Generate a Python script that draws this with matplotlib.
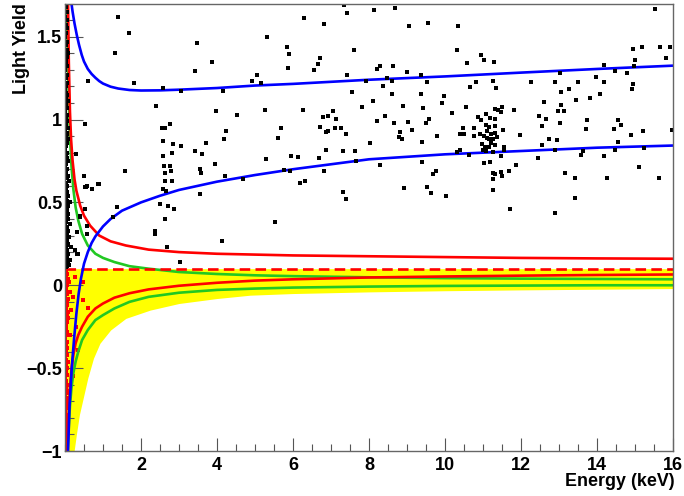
import matplotlib
matplotlib.use("Agg")
import matplotlib.pyplot as plt
from matplotlib.ticker import MultipleLocator, FixedLocator, FixedFormatter

plt.rcParams['font.family'] = ['Liberation Sans', 'DejaVu Sans']

# ---------------- data ----------------
x_ticks = [2, 4, 6, 8, 10, 12, 14, 16]
y_ticks = [-1, -0.5, 0, 0.5, 1, 1.5]
y_tick_labels = ["\u22121", "\u22120.5", "0", "0.5", "1", "1.5"]

band_top_y = 0.1
band_E = [0.0, 0.24, 0.3, 0.38, 0.47, 0.6, 0.75, 0.92, 1.2, 1.6, 2.24, 3.0, 4.0, 4.87, 6.0, 8.0, 10.0, 12.0, 14.0, 16.0]
band_low = [-1.0, -1.0, -0.9, -0.78, -0.69, -0.56, -0.44, -0.35, -0.27, -0.2, -0.15, -0.11, -0.08, -0.06, -0.05, -0.04, -0.033, -0.028, -0.024, -0.02]

blue_up_E = [0.17, 0.2, 0.25, 0.31, 0.37, 0.44, 0.5, 0.6, 0.7, 0.8, 0.9, 1.0, 1.2, 1.4, 1.7, 2.0, 2.5, 3.0, 4.0, 5.0, 6.0, 8.0, 10.0, 12.0, 14.0, 16.0]
blue_up_y = [1.70, 1.65, 1.58, 1.51, 1.45, 1.39, 1.35, 1.305, 1.275, 1.252, 1.232, 1.217, 1.198, 1.187, 1.178, 1.175, 1.176, 1.18, 1.19, 1.205, 1.215, 1.24, 1.26, 1.283, 1.305, 1.325]

blue_lo_E = [0.08, 0.12, 0.18, 0.24, 0.3, 0.36, 0.42, 0.5, 0.6, 0.7, 0.8, 1.0, 1.2, 1.5, 2.0, 2.5, 3.0, 4.0, 5.0, 6.0, 8.0, 10.0, 12.0, 14.0, 16.0]
blue_lo_y = [-1.0, -0.72, -0.49, -0.32, -0.17, -0.05, 0.04, 0.13, 0.2, 0.255, 0.295, 0.355, 0.40, 0.45, 0.50, 0.54, 0.575, 0.625, 0.665, 0.70, 0.76, 0.79, 0.81, 0.83, 0.843]

red_up_E = [0.08, 0.1, 0.13, 0.16, 0.2, 0.25, 0.3, 0.4, 0.5, 0.66, 0.9, 1.2, 1.6, 2.2, 3.0, 4.0, 5.0, 6.0, 8.0, 10.0, 12.0, 14.0, 16.0]
red_up_y = [1.7, 1.35, 1.05, 0.88, 0.75, 0.64, 0.57, 0.48, 0.42, 0.36, 0.30, 0.265, 0.24, 0.215, 0.2, 0.19, 0.185, 0.18, 0.175, 0.17, 0.165, 0.162, 0.16]

green_up_E = [0.04, 0.06, 0.08, 0.1, 0.13, 0.17, 0.22, 0.28, 0.35, 0.45, 0.6, 0.8, 1.0, 1.3, 1.7, 2.2, 3.0, 4.0, 5.0, 6.0, 8.0, 10.0, 12.0, 14.0, 16.0]
green_up_y = [1.7, 1.5, 1.3, 1.1, 0.9, 0.72, 0.58, 0.47, 0.39, 0.31, 0.24, 0.19, 0.165, 0.14, 0.115, 0.1, 0.08, 0.068, 0.06, 0.055, 0.048, 0.043, 0.04, 0.038, 0.036]

red_lo_E = [0.06, 0.08, 0.1, 0.13, 0.17, 0.22, 0.28, 0.35, 0.45, 0.6, 0.8, 1.0, 1.3, 1.7, 2.2, 3.0, 4.0, 5.0, 6.0, 8.0, 10.0, 12.0, 14.0, 16.0]
red_lo_y = [-1.0, -0.88, -0.75, -0.62, -0.51, -0.42, -0.35, -0.3, -0.25, -0.19, -0.14, -0.11, -0.075, -0.048, -0.025, -0.003, 0.015, 0.028, 0.036, 0.047, 0.053, 0.058, 0.062, 0.065]

green_lo_E = [0.07, 0.1, 0.13, 0.17, 0.22, 0.28, 0.35, 0.45, 0.6, 0.8, 1.0, 1.3, 1.7, 2.2, 3.0, 4.0, 5.0, 6.0, 8.0, 10.0, 12.0, 14.0, 16.0]
green_lo_y = [-1.0, -0.85, -0.73, -0.62, -0.53, -0.46, -0.4, -0.33, -0.27, -0.21, -0.18, -0.14, -0.1, -0.07, -0.045, -0.028, -0.02, -0.014, -0.008, -0.004, -0.002, 0.0, 0.0]

# black events: dense column near zero energy
col_E = [0.02, 0.05, 0.01, 0.04, 0.02, 0.06, 0.03, 0.01, 0.05, 0.02, 0.04, 0.07, 0.02, 0.03, 0.05, 0.01, 0.04, 0.02, 0.06, 0.03,
         0.01, 0.05, 0.02, 0.08, 0.03, 0.04, 0.01, 0.06, 0.02, 0.05, 0.03, 0.07, 0.01, 0.04, 0.02, 0.09, 0.05, 0.03, 0.01, 0.06,
         0.02, 0.04, 0.08, 0.03, 0.01, 0.05, 0.02, 0.07, 0.04, 0.10, 0.02, 0.06, 0.03, 0.01, 0.05, 0.08, 0.02, 0.04, 0.12, 0.03,
         0.06, 0.01, 0.05, 0.09, 0.02, 0.04, 0.07, 0.03, 0.14, 0.01, 0.05, 0.02, 0.08, 0.04, 0.06, 0.03, 0.11, 0.01, 0.05, 0.02,
         0.07, 0.04, 0.16, 0.03, 0.06, 0.01, 0.09, 0.02, 0.05, 0.04, 0.13, 0.03, 0.07, 0.01, 0.05, 0.02, 0.10, 0.04, 0.06, 0.03,
         0.05, 0.02, 0.07, 0.04, 0.06, 0.03, 0.01]
col_y = [1.68, 1.65, 1.62, 1.60, 1.57, 1.55, 1.52, 1.50, 1.47, 1.45, 1.42, 1.40, 1.37, 1.35, 1.32, 1.30, 1.27, 1.25, 1.22, 1.20,
         1.18, 1.15, 1.13, 1.11, 1.09, 1.07, 1.05, 1.03, 1.01, 0.99, 0.97, 0.95, 0.93, 0.91, 0.89, 0.88, 0.86, 0.84, 0.82, 0.80,
         0.78, 0.77, 0.75, 0.73, 0.71, 0.70, 0.68, 0.66, 0.65, 0.63, 0.62, 0.60, 0.58, 0.57, 0.55, 0.54, 0.52, 0.51, 0.50, 0.49,
         0.47, 0.46, 0.45, 0.43, 0.42, 0.41, 0.40, 0.38, 0.37, 0.36, 0.35, 0.34, 0.33, 0.32, 0.31, 0.30, 0.29, 0.28, 0.27, 0.26,
         0.25, 0.24, 0.23, 0.22, 0.21, 0.20, 0.19, 0.18, 0.17, 0.16, 0.15, 0.14, 0.13, 0.12, 0.115, 0.11, 0.12, 0.56, 0.92, 1.16,
         1.38, 0.66, 0.48, 0.28, 0.16, 0.44, 0.74]

# black events: spread over the plot
ev_E = [0.5, 0.55, 0.71, 0.87, 0.53, 0.39, 0.32, 0.58, 0.26, 0.34, 0.29, 0.53, 0.61,
        1.39, 1.68, 1.32, 1.82, 3.47, 3.87, 3.42, 2.58, 3.05, 4.17, 2.39, 3.98, 4.53, 2.55, 2.63, 2.76, 4.24,
        4.18, 2.58, 2.84, 3.05, 3.71, 3.42, 3.61, 2.82, 2.58, 3.95, 2.61, 2.76, 1.58, 2.63, 2.78, 3.55, 3.58,
        4.21, 2.63, 2.82, 4.68, 0.58, 0.53, 0.71, 0.89, 2.58, 2.66, 3.55,
        2.5, 2.71, 2.87, 1.37, 0.39, 0.58, 1.26, 2.63, 2.37, 2.37, 2.68, 4.13, 3.03, 0.31,
        7.35, 8.12, 8.68, 7.42, 6.29, 6.81, 9.05, 9.54, 10.33, 5.32, 15.53, 5.84, 5.89, 5.86, 7.60, 6.70, 6.67,
        6.54, 10.32, 10.96, 11.02, 11.29, 10.59, 14.95, 15.19, 15.66, 15.93, 15.81, 15.0, 14.98, 14.18, 14.80,
        14.47, 13.98, 14.18, 14.96, 14.91, 14.09, 5.04, 4.91, 5.16, 7.43, 8.29, 8.20, 8.63, 9.0, 9.38, 8.48,
        8.61, 7.92, 9.52, 10.82, 10.66, 11.25, 11.35, 12.27, 12.89, 13.03, 13.51, 13.25, 13.06, 13.81, 13.46,
        7.55, 8.36, 8.61, 9.36, 9.97, 9.91, 8.11, 8.90, 9.41, 7.82, 5.25, 6.26, 7.05, 6.92, 6.78, 7.13, 6.71,
        6.91, 6.87, 7.11, 7.25, 7.39, 5.69, 5.60, 8.41, 8.21, 8.65, 9.03, 9.12, 8.81, 8.80, 8.87, 9.49, 9.58,
        9.79, 10.18, 10.56, 9.40, 8.02, 6.88, 7.31, 7.64, 5.96, 6.14, 6.68, 5.28, 7.67, 5.77, 5.92, 6.82, 6.19,
        6.32, 7.31, 7.40, 5.53, 4.68, 8.30, 9.40, 8.93, 9.53, 9.63, 10.03, 9.69, 9.76,
        11.31, 11.40, 11.50, 11.47, 11.07, 10.87, 10.94, 11.18, 11.31, 11.07, 11.16, 11.10, 11.31, 10.76, 10.48,
        10.40, 10.50, 10.91, 11.03, 11.11, 11.20, 11.32, 11.36, 11.52, 11.26, 11.15, 10.97, 11.05, 11.20, 11.32,
        11.54, 11.56, 11.25, 11.08, 10.99, 10.40, 10.32, 10.64, 10.75, 11.17, 11.03, 11.18, 11.48, 11.87, 11.25,
        11.31, 11.47, 11.68, 11.25, 11.49, 11.25, 11.70,
        11.82, 11.98, 12.47, 12.67, 12.56, 12.60, 12.98, 13.12, 13.05, 13.03, 12.74, 12.96, 12.54, 12.89, 12.44,
        13.74, 13.72, 13.59, 13.63, 14.19, 14.47, 14.55, 14.55, 14.63, 14.44, 14.90, 15.2, 15.98, 15.24, 15.1,
        14.25, 13.41, 13.15, 13.42, 12.9, 15.62]
ev_y = [0.66, 0.59, 0.58, 0.61, 0.46, 0.41, 0.32, 0.31, 0.21, 0.19, 0.79, 0.97, 1.23,
        1.62, 1.52, 1.40, 1.22, 1.46, 1.35, 1.29, 1.19, 1.17, 1.17, 1.08, 1.05, 1.03, 0.95, 0.95, 0.97, 0.93,
        0.88, 0.87, 0.855, 0.84, 0.86, 0.81, 0.79, 0.80, 0.78, 0.73, 0.72, 0.72, 0.69, 0.68, 0.69, 0.70, 0.68,
        0.66, 0.63, 0.63, 0.64, 0.60, 0.59, 0.58, 0.61, 0.58, 0.57, 0.55,
        0.49, 0.48, 0.46, 0.47, 0.42, 0.36, 0.41, 0.40, 0.33, 0.31, 0.23, 0.27, 0.14, 0.19,
        1.69, 1.66, 1.675, 1.643, 1.613, 1.578, 1.562, 1.584, 1.566, 1.50, 1.669, 1.438, 1.396, 1.309, 1.42, 1.372, 1.335,
        1.299, 1.422, 1.39, 1.358, 1.346, 1.34, 1.424, 1.44, 1.44, 1.44, 1.37, 1.358, 1.325, 1.331, 1.279,
        1.295, 1.259, 1.229, 1.217, 1.187, 1.151, 1.271, 1.233, 1.219, 1.271, 1.325, 1.305, 1.325, 1.285, 1.269, 1.251,
        1.235, 1.233, 1.225, 1.225, 1.197, 1.231, 1.189, 1.225, 1.225, 1.279, 1.225, 1.185, 1.165, 1.129, 1.119,
        1.169, 1.201, 1.151, 1.151, 1.141, 1.101, 1.11, 1.08, 1.072, 1.076, 1.056, 1.06, 1.05, 1.022, 1.016, 1.002, 0.954,
        0.932, 0.926, 0.946, 0.948, 0.91, 0.946, 0.89, 1.024, 0.994, 0.976, 0.984, 0.938, 0.926, 0.896, 0.884, 0.98, 1.004,
        0.902, 1.042, 1.076, 0.866, 0.86, 0.815, 0.809, 0.809, 0.781, 0.775, 0.765, 0.763, 0.749, 0.695, 0.689, 0.691, 0.617,
        0.631, 0.56, 0.52, 0.38, 0.643, 0.725, 0.743, 0.588, 0.592, 0.558, 0.536, 0.669, 0.689,
        1.062, 1.06, 1.076, 1.044, 1.034, 1.018, 1.0, 1.01, 1.004, 0.964, 0.954, 0.932, 0.96, 0.95, 0.948,
        0.914, 0.912, 0.91, 0.898, 0.888, 0.914, 0.92, 0.894, 0.934, 0.882, 0.884, 0.854, 0.834, 0.858, 0.844,
        0.837, 0.817, 0.803, 0.809, 0.817, 0.819, 0.803, 0.783, 0.898, 0.834, 0.737, 0.743, 0.779, 0.725, 0.675,
        0.671, 0.681, 0.687, 0.643, 0.659, 0.572, 0.46,
        1.06, 0.906, 1.022, 1.004, 0.958, 1.103, 1.05, 1.052, 1.088, 0.978, 0.884, 0.876, 0.845, 0.819, 0.767,
        0.998, 0.942, 0.787, 0.811, 0.781, 0.817, 0.866, 0.998, 0.966, 0.944, 0.906, 0.928, 0.934, 0.829, 0.711,
        0.649, 0.649, 0.677, 0.526, 0.438, 0.645]

# red events (inside the acceptance band)
red_E = [0.02, 0.05, 0.01, 0.08, 0.03, 0.06, 0.02, 0.04, 0.01, 0.07, 0.03, 0.05, 0.02, 0.09, 0.04, 0.01, 0.06, 0.03, 0.02, 0.05,
         0.08, 0.01, 0.04, 0.03, 0.06, 0.02, 0.05, 0.01, 0.07, 0.03, 0.04, 0.02, 0.06, 0.01, 0.03, 0.05, 0.02, 0.04, 0.01, 0.06,
         0.03, 0.02, 0.05, 0.01, 0.04, 0.03, 0.02, 0.05, 0.01, 0.04, 0.03, 0.02, 0.05, 0.01, 0.03, 0.04, 0.03, 0.06, 0.02, 0.04,
         0.10, 0.12, 0.07, 0.02, 0.05, 0.03, 0.47, 0.47, 0.60, 0.34, 0.20, 0.25, 0.15, 0.12, 0.20, 0.30]
red_y = [0.09, 0.07, 0.05, 0.04, 0.02, 0.0, -0.02, -0.04, -0.06, -0.08, -0.10, -0.12, -0.14, -0.16, -0.18, -0.20, -0.22, -0.24, -0.26, -0.28,
         -0.30, -0.32, -0.34, -0.36, -0.38, -0.40, -0.42, -0.44, -0.46, -0.48, -0.50, -0.52, -0.54, -0.56, -0.58, -0.60, -0.62, -0.64, -0.66, -0.68,
         -0.70, -0.72, -0.74, -0.76, -0.78, -0.80, -0.82, -0.84, -0.86, -0.88, -0.90, -0.92, -0.94, -0.96, -0.98, -0.995, 0.06, -0.05, -0.30, -0.11,
         0.02, -0.04, -0.20, -0.45, -0.65, -0.85, 0.02, -0.09, -0.14, -0.39, -0.07, 0.05, -0.15, -0.30, -0.55, -0.25]

# ---------------- plot ----------------
W, H = 684, 496
fig = plt.figure(figsize=(W / 100, H / 100), dpi=100)
ax = fig.add_axes([65 / W, 1 - 451 / H, (673 - 65) / W, (451 - 3.5) / H])

ax.fill_between(band_E, band_low, [band_top_y] * len(band_E), color='#ffff00', lw=0, zorder=1)

ax.plot(red_E, red_y, ls='none', marker='s', ms=2.3, mew=0, color='#ff0000', zorder=2)

lw = 1.9
ax.plot(green_up_E, green_up_y, color='#22c822', lw=lw, zorder=3)
ax.plot(green_lo_E, green_lo_y, color='#22c822', lw=lw, zorder=3)
ax.plot(red_up_E, red_up_y, color='#ff0000', lw=lw, zorder=4)
ax.plot(red_lo_E, red_lo_y, color='#ff0000', lw=lw, zorder=4)
ax.plot([0, 16], [band_top_y, band_top_y], color='#ff0000', lw=lw, ls=(0, (4, 2)), zorder=4)
ax.plot(blue_up_E, blue_up_y, color='#0000ff', lw=lw, zorder=5)
ax.plot(blue_lo_E, blue_lo_y, color='#0000ff', lw=lw, zorder=5)

ax.plot(col_E, col_y, ls='none', marker='s', ms=2.3, mew=0, color='black', zorder=6)
ax.plot(ev_E, ev_y, ls='none', marker='s', ms=2.3, mew=0, color='black', zorder=6)

ax.set_xlim(0, 16)
ax.set_ylim(-1, 1.7)

ax.xaxis.set_major_locator(FixedLocator(x_ticks))
ax.xaxis.set_major_formatter(FixedFormatter([str(v) for v in x_ticks]))
ax.xaxis.set_minor_locator(MultipleLocator(0.5))
ax.yaxis.set_major_locator(FixedLocator(y_ticks))
ax.yaxis.set_major_formatter(FixedFormatter(y_tick_labels))
ax.yaxis.set_minor_locator(MultipleLocator(0.1))

ax.tick_params(axis='x', which='major', direction='in', length=9.5, width=0.8, color='#555555', pad=4)
ax.tick_params(axis='x', which='minor', direction='in', length=5, width=0.8, color='#555555')
ax.tick_params(axis='y', which='major', direction='in', length=13, width=0.8, color='#555555', pad=2)
ax.tick_params(axis='y', which='minor', direction='in', length=6.5, width=0.8, color='#555555')
for lab in ax.get_xticklabels() + ax.get_yticklabels():
    lab.set_fontweight('bold')
    lab.set_fontsize(13)

for s in ax.spines.values():
    s.set_color('#666666')
    s.set_linewidth(1.0)
    s.set_zorder(10)

fig.text(675 / W, 1 - 481 / H, "Energy (keV)", ha='right', va='center', fontsize=12.9, fontweight='bold')
fig.text(22 / W, 1 - 3 / H, "Light Yield", ha='center', va='top', rotation=90, fontsize=12.9, fontweight='bold')

fig.savefig("out.png", dpi=100)
